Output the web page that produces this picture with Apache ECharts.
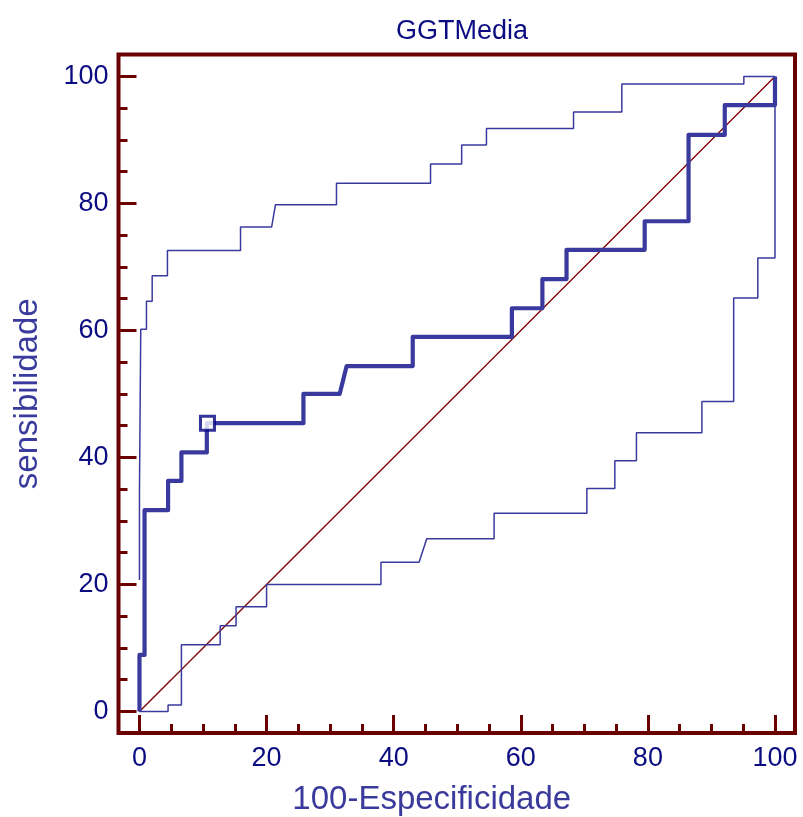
<!DOCTYPE html>
<html>
<head>
<meta charset="utf-8">
<script src="https://cdn.jsdelivr.net/npm/echarts@6/dist/echarts.min.js"></script>
<style>
  html, body { margin: 0; padding: 0; background: #fff; }
  #chart { width: 803px; height: 817px; }
</style>
</head>
<body>
<div id="chart"></div>
<script>
// curva ROC (pontos dos cantos dos degraus)
const rocCurve = [
  [0, 0], [0, 8.9], [0.8, 8.9], [0.8, 31.7], [4.5, 31.7], [4.5, 36.3], [6.6, 36.3], [6.6, 40.8],
  [10.6, 40.8], [10.6, 45.4], [25.8, 45.4], [25.8, 50.0], [31.5, 50.0], [32.6, 54.4], [43.0, 54.4],
  [43.0, 59.0], [58.6, 59.0], [58.6, 63.5], [63.4, 63.5], [63.4, 68.1], [67.2, 68.1], [67.2, 72.7],
  [79.5, 72.7], [79.5, 77.2], [86.4, 77.2], [86.4, 90.8], [92.1, 90.8], [92.1, 95.5], [100, 95.5], [100, 100]
];
// banda de confiança superior
const upperBand = [
  [0, 20.7], [0, 34.8], [0.2, 34.8], [0.2, 60.2], [1.1, 60.2], [1.1, 64.6], [2.0, 64.6], [2.0, 68.6],
  [4.4, 68.6], [4.4, 72.6], [15.9, 72.6], [15.9, 76.3], [20.8, 76.3], [21.4, 79.8], [31.0, 79.8],
  [31.0, 83.2], [45.8, 83.2], [45.8, 86.2], [50.7, 86.2], [50.7, 89.2], [54.6, 89.2], [54.6, 91.8],
  [68.3, 91.8], [68.3, 94.4], [75.9, 94.4], [75.9, 98.8], [95.1, 98.8], [95.1, 100], [100, 100]
];
// banda de confiança inferior
const lowerBand = [
  [0, 0], [4.5, 0], [4.5, 1.0], [6.6, 1.0], [6.6, 10.5], [12.7, 10.5], [12.7, 13.5], [15.2, 13.5],
  [15.2, 16.5], [20.0, 16.5], [20.0, 20.0], [38.0, 20.0], [38.0, 23.5], [44.0, 23.5], [45.2, 27.2],
  [55.8, 27.2], [55.8, 31.2], [70.4, 31.2], [70.4, 35.1], [74.8, 35.1], [74.8, 39.5], [78.2, 39.5],
  [78.2, 43.9], [88.5, 43.9], [88.5, 48.8], [93.5, 48.8], [93.5, 65.1], [97.3, 65.1], [97.3, 71.4],
  [100, 71.4], [100, 100]
];
const diagonal = [[0, 0], [100, 100]];
const criterion = [[10.7, 45.4]];

const majorTicks = [0, 20, 40, 60, 80, 100];
const minorTicks = [5, 10, 15, 25, 30, 35, 45, 50, 55, 65, 70, 75, 85, 90, 95];

const frameColor = "#6b0000";
const labelColor = "#0c0c82";
const nameColor = "#3a3a9c";
const lineColor = "#3a3a9e";
const font = "'Liberation Sans', Arial, sans-serif";

const xRange = { min: -3.3, max: 103.15 };
const yRange = { min: -3.39, max: 103.46 };

function axisPair(dim) {
  const range = dim === "x" ? xRange : yRange;
  const major = {
    type: "value",
    min: range.min,
    max: range.max,
    splitLine: { show: false },
    axisLine: { show: false, onZero: false },
    axisTick: {
      show: true, inside: true, length: 18, customValues: majorTicks,
      lineStyle: { color: frameColor, width: 3 },
    },
    axisLabel: {
      show: true, customValues: majorTicks, color: labelColor,
      fontSize: 27, fontFamily: font, margin: dim === "x" ? 12 : 10,
    },
  };
  const minor = {
    type: "value",
    min: range.min,
    max: range.max,
    splitLine: { show: false },
    axisLine: { show: false, onZero: false },
    axisLabel: { show: false },
    axisTick: {
      show: true, inside: true, length: 9, customValues: minorTicks,
      lineStyle: { color: frameColor, width: 3 },
    },
  };
  if (dim === "x") {
    major.position = "bottom";
    minor.position = "bottom";
    major.name = "100-Especificidade";
    major.nameLocation = "middle";
    major.nameGap = 50;
    major.nameTextStyle = { color: nameColor, fontSize: 33, fontFamily: font, padding: [0, 50, 0, 0] };
  } else {
    major.position = "left";
    minor.position = "left";
    major.name = "sensibilidade";
    major.nameLocation = "middle";
    major.nameGap = 74;
    major.nameTextStyle = { color: nameColor, fontSize: 33, fontFamily: font };
  }
  return [major, minor];
}

const chart = echarts.init(document.getElementById("chart"));
chart.setOption({
  animation: false,
  backgroundColor: "#fff",
  title: {
    text: "GGTMedia",
    left: 457,
    top: 13,
    textAlign: "center",
    textStyle: { color: labelColor, fontSize: 27, fontWeight: "normal", fontFamily: font },
  },
  grid: {
    left: 118.5, right: 8, top: 54.5, bottom: 84,
    outerBoundsMode: "none",
    show: true, borderColor: frameColor, borderWidth: 4, backgroundColor: "#fff",
  },
  xAxis: axisPair("x"),
  yAxis: axisPair("y"),
  series: [
    {
      type: "line", data: diagonal, symbol: "none",
      lineStyle: { color: "#800000", width: 1.3 },
    },
    {
      type: "line", data: upperBand, symbol: "none",
      lineStyle: { color: lineColor, width: 1.5 },
    },
    {
      type: "line", data: lowerBand, symbol: "none",
      lineStyle: { color: lineColor, width: 1.5 },
    },
    {
      type: "line", data: rocCurve, symbol: "none",
      lineStyle: { color: lineColor, width: 4.2, join: "round" },
    },
    {
      type: "scatter", data: criterion, symbol: "rect", symbolSize: 14, z: 5,
      itemStyle: { color: "#fff", borderColor: "#000080", borderWidth: 3 },
    },
  ],
});
</script>
</body>
</html>
